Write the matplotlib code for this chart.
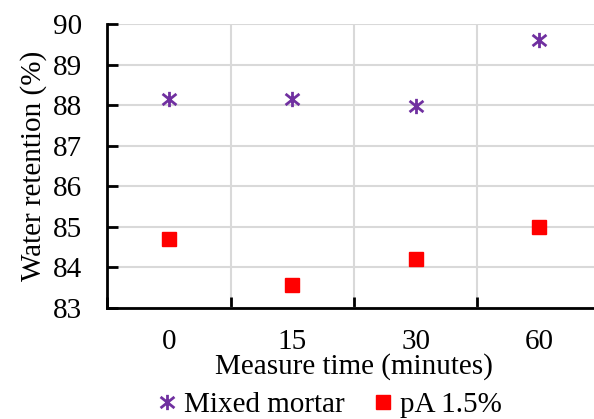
import matplotlib.pyplot as plt
from matplotlib.path import Path

plt.rcParams['font.family'] = ['Liberation Serif', 'DejaVu Serif']

times = ['0', '15', '30', '60']
mixed_mortar = [88.15, 88.15, 87.98, 89.6]
pa_15 = [84.7, 83.57, 84.2, 85.0]

# Excel-style asterisk marker
star = Path([(-1, -0.8), (1, 0.8), (-1, 0.8), (1, -0.8), (0, -1.1), (0, 1.1)],
            [Path.MOVETO, Path.LINETO, Path.MOVETO, Path.LINETO, Path.MOVETO, Path.LINETO])

fig = plt.figure(figsize=(5.94, 4.19), dpi=100)
ax = fig.add_axes([107 / 594, 1 - 308 / 419, (601 - 107) / 594, (308 - 24) / 419])

x = range(len(times))
ax.plot(x, mixed_mortar, linestyle='none', marker=star, markersize=11,
        markeredgewidth=2, color='#7030a0', label='Mixed mortar')
ax.plot(x, pa_15, linestyle='none', marker='s', markersize=10,
        color='#ff0000', label='pA 1.5%')

ax.set_xlim(-0.5, len(times) - 0.5)
ax.set_ylim(83, 90)
ax.set_yticks(range(83, 91))

ax.set_xticks([i + 0.5 for i in range(-1, len(times))])
ax.set_xticklabels([])
ax.set_xticks(list(x), minor=True)
ax.set_xticklabels(times, minor=True)
ax.tick_params(axis='x', which='minor', length=0, pad=15, labelsize=21)
ax.tick_params(axis='x', which='major', direction='in', length=8, width=2)
ax.tick_params(axis='y', direction='in', length=8, width=2, labelsize=21, pad=18)

ax.grid(True, which='major', color='#d9d9d9', linewidth=1.5)
ax.set_axisbelow(True)
for s in ['top', 'right']:
    ax.spines[s].set_visible(False)
for s in ['left', 'bottom']:
    ax.spines[s].set_linewidth(2)

ax.set_xlabel('Measure time (minutes)', fontsize=21, labelpad=-1)
ax.set_ylabel('Water retention (%)', fontsize=21, labelpad=4)

fig.legend(loc='center', bbox_to_anchor=(330 / 594, 1 - 405 / 419), ncol=2,
           frameon=False, fontsize=21, handlelength=0.6, handletextpad=0.3,
           columnspacing=1.0, borderaxespad=0)

fig.savefig('out.png', dpi=100)
